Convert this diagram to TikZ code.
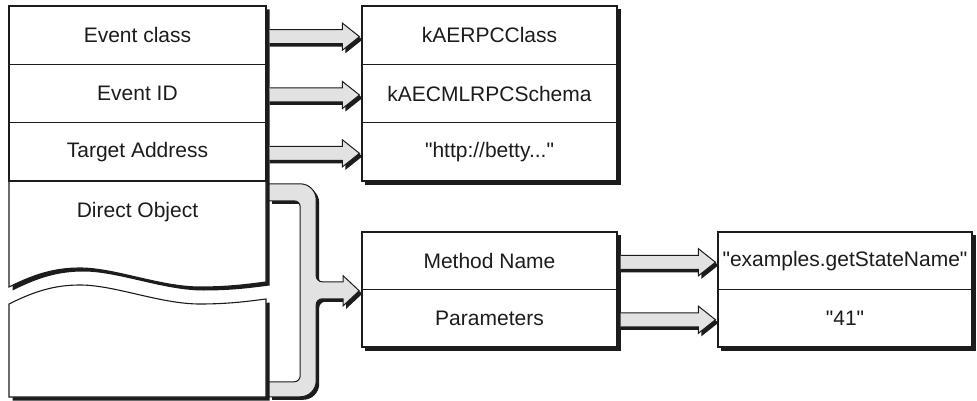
\documentclass[tikz,border=0pt]{standalone}
\usepackage{fontspec}
\setmainfont{Liberation Sans}
\usetikzlibrary{calc}
\pgfdeclarelayer{background}
\pgfdeclarelayer{paper}
\pgfsetlayers{paper,background,main}
\definecolor{arrowgray}{RGB}{226,226,226}
\definecolor{ink}{RGB}{28,28,28}
\tikzset{
  cell/.style={draw=ink, fill=white, line width=1.1pt, inner sep=0pt,
    minimum height=58.33pt, font=\fontsize{21}{25}\selectfont, text=ink},
  leftcell/.style={cell, minimum width=257pt},
  rightcell/.style={cell, minimum width=255pt},
  lowcell/.style={cell, minimum height=57.5pt, minimum width=255pt},
  label/.style={inner sep=0pt, font=\fontsize{21}{25}\selectfont, text=ink},
  shadow/.style={fill=ink, draw=none},
  outline/.style={draw=ink, line width=1.1pt},
}
\newcommand\qq{\textquotedbl}
\newcommand\uppershape[1]{\path[#1] (9,6) -- (266,6) -- (266,282)
  .. controls (250,284) and (230,287) .. (200,287)
  .. controls (160,287) and (115,268) .. (80,268)
  .. controls (55,268) and (35,274) .. (9,287) -- cycle;}
\newcommand\lowershape[1]{\path[#1] (9,304)
  .. controls (35,291) and (55,285) .. (80,285)
  .. controls (115,285) and (160,304) .. (200,304)
  .. controls (230,304) and (250,301) .. (266,299) -- (266,397) -- (9,397) -- cycle;}
\newcommand\braceshape[1]{\path[#1] (0,0) -- (31,0)
  .. controls (39.8,0) and (47,7.2) .. (47,16) -- (47,92)
  .. controls (47,95.3) and (49.7,98) .. (53,98) -- (74,98) -- (74,92) -- (90,107)
  -- (74,122) -- (74,115) -- (53,115)
  .. controls (49.7,115) and (47,117.7) .. (47,121) -- (47,197)
  .. controls (47,205.8) and (39.8,213) .. (31,213) -- (0,213) -- (0,198) -- (25,198)
  .. controls (28.3,198) and (31,195.3) .. (31,192) -- (31,23)
  .. controls (31,19.7) and (28.3,17) .. (25,17) -- (0,17) -- cycle;}
\newcommand\fatarrow[2]{%
  \coordinate (fa-s) at ($(#1.east)+(3,1.5)$);
  \coordinate (fa-t) at ($(#2.west |- fa-s)+(-2,0)$);
  \begin{pgfonlayer}{background}
    \fill[ink] ($(fa-s)+(0,-4)$) -- ($(fa-t)+(-14,-4)$) -- ($(fa-t)+(-14,-10.5)$)
      -- ($(fa-t)+(3,3)$) -- ($(fa-t)+(-14,16.5)$) -- ($(fa-t)+(-14,10)$)
      -- ($(fa-s)+(0,10)$) -- cycle;
  \end{pgfonlayer}
  \filldraw[fill=arrowgray, draw=ink, line width=1pt, miter limit=20]
    ($(fa-s)+(0,-7)$) -- ($(fa-t)+(-17,-7)$) -- ($(fa-t)+(-17,-13.5)$) -- (fa-t)
    -- ($(fa-t)+(-17,13.5)$) -- ($(fa-t)+(-17,7)$) -- ($(fa-s)+(0,7)$);
}
\begin{document}
\begin{tikzpicture}[x=1pt,y=-1pt]
\useasboundingbox (0,0) rectangle (977,401);
\begin{pgfonlayer}{paper}
  \fill[white] (0,0) rectangle (977,401);
\end{pgfonlayer}

% left column
\uppershape{fill=white, outline}
\lowershape{fill=white, outline}
\node[leftcell] (ec)  at (137.5,35.17)  {Event class};
\node[leftcell] (eid) at (137.5,93.5)   {Event ID};
\node[leftcell] (ta)  at (137.5,151.83) {Target Address};
\node[label, minimum width=257pt, minimum height=62pt] (do) at (137.5,212) {Direct Object};

% top right column
\node[rightcell] (cls)  at (489.5,35.17)  {kAERPCClass};
\node[rightcell] (sch)  at (489.5,93.5)   {kAECMLRPCSchema};
\node[rightcell] (http) at (489.5,151.83) {\qq http://betty...\qq};

% middle column
\node[lowcell] (mn) at (489.5,260.75) {Method Name};
\node[lowcell] (pa) at (489.5,318.25) {Parameters};

% right column
\node[lowcell, minimum width=254pt] (gsn) at (845,260.75) {\qq examples.getStateName\qq};
\node[lowcell, minimum width=254pt] (v41) at (845,318.25) {\qq 41\qq};

% shadows of boxes
\begin{pgfonlayer}{background}
  \uppershape{shadow, shift={(3.5,3.5)}}
  \lowershape{shadow, shift={(3.5,3.5)}}
  \fill[ink] ($(cls.north west)+(3.5,3.5)$) rectangle ($(http.south east)+(3.5,3.5)$);
  \fill[ink] ($(mn.north west)+(3.5,3.5)$) rectangle ($(pa.south east)+(3.5,3.5)$);
  \fill[ink] ($(gsn.north west)+(3.5,3.5)$) rectangle ($(v41.south east)+(3.5,3.5)$);
\end{pgfonlayer}

% straight arrows
\fatarrow{ec}{cls}
\fatarrow{eid}{sch}
\fatarrow{ta}{http}
\fatarrow{mn}{gsn}
\fatarrow{pa}{v41}

% brace connector from Direct Object to the Method Name / Parameters record
\coordinate (bs) at ($(do.north east)+(3,3)$);
\begin{scope}[shift={(bs)}]
  \begin{pgfonlayer}{background}
    \braceshape{shadow, shift={(3,3)}}
  \end{pgfonlayer}
  \braceshape{fill=arrowgray, draw=ink, line width=1pt, miter limit=20}
\end{scope}
\end{tikzpicture}
\end{document}
